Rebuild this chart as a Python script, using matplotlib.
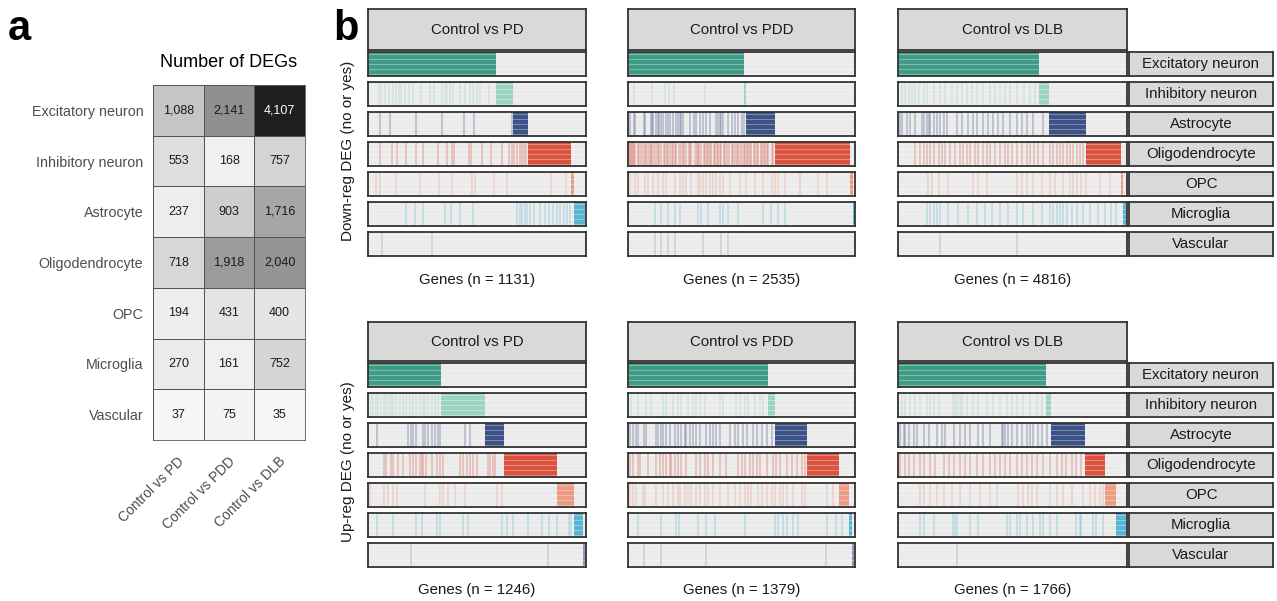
import numpy as np
import matplotlib
matplotlib.use('Agg')
import matplotlib.pyplot as plt
from matplotlib.colors import LinearSegmentedColormap, Normalize
from matplotlib.transforms import ScaledTranslation

plt.rcParams['font.family'] = ['Liberation Sans', 'DejaVu Sans']

# ---------------- data ----------------
cell_types = ['Excitatory neuron', 'Inhibitory neuron', 'Astrocyte', 'Oligodendrocyte',
              'OPC', 'Microglia', 'Vascular']
comparisons = ['Control vs PD', 'Control vs PDD', 'Control vs DLB']

# panel a: number of DEGs (rows = cell types, cols = comparisons)
deg_counts = [
    [1088, 2141, 4107],
    [553, 168, 757],
    [237, 903, 1716],
    [718, 1918, 2040],
    [194, 431, 400],
    [270, 161, 752],
    [37, 75, 35],
]

cell_colors = ['#409c86', '#9bd3c2', '#3d5387', '#d9533f', '#eb9c82', '#59b6d2', '#8b93b8']

# panel b: genes per comparison
n_down = [1131, 2535, 4816]
n_up = [1246, 1379, 1766]

# gene ranks where each cell type's "new" genes start/end (genes sorted by cell type)
down_pd_edges = [0, 664, 751, 828, 1053, 1067, 1127, 1131]
down_pdd_edges = [0, 1294, 1316, 1640, 2475, 2516, 2530, 2535]
down_dlb_edges = [0, 2971, 3174, 3963, 4681, 4730, 4800, 4816]
up_pd_edges = [0, 420, 671, 776, 1080, 1175, 1229, 1246]
up_pdd_edges = [0, 848, 892, 1089, 1282, 1343, 1363, 1379]
up_dlb_edges = [0, 1141, 1177, 1439, 1594, 1683, 1766, 1766]

# gene ranks of shared DEGs (single lines) per cell type
down_pd_lines = [
    [],
    [56, 69, 87, 108, 130, 147, 161, 173, 191, 213, 231, 274, 321, 342, 382, 399, 411, 425,
     439, 477, 503, 529, 546, 564, 581, 630],
    [61, 113, 248, 382, 498, 552, 746],
    [61, 125, 153, 199, 248, 283, 364, 411, 434, 448, 526, 536, 590, 637, 694, 734, 746, 755,
     772, 786, 798, 807, 819],
    [43, 64, 147, 269, 368, 434, 538, 555, 654, 720, 949, 1029],
    [199, 243, 283, 399, 430, 477, 546, 772, 786, 798, 812, 824, 841, 862, 893, 919, 937, 959,
     980, 997, 1015, 1032, 1046],
    [75, 330],
]
down_pdd_lines = [
    [],
    [63, 272, 410, 459, 511, 857],
    [19, 63, 75, 175, 186, 261, 270, 280, 317, 336, 350, 373, 391, 429, 447, 466, 503, 541,
     559, 578, 596, 615, 690, 734, 764, 802, 839, 876, 913, 988, 1007, 1025, 1044, 1062, 1118,
     1156, 1193, 1230, 1268, 1294],
    [8, 19, 33, 41, 56, 63, 81, 112, 127, 141, 168, 186, 199, 224, 243, 261, 272, 290, 309,
     336, 347, 373, 398, 410, 433, 447, 470, 486, 503, 529, 541, 566, 590, 615, 628, 652, 677,
     690, 709, 746, 768, 783, 797, 820, 846, 857, 880, 895, 921, 932, 959, 969, 995, 1007,
     1031, 1044, 1070, 1081, 1100, 1127, 1156, 1171, 1193, 1220, 1230, 1255, 1268, 1296, 1305,
     1331, 1342, 1368, 1379, 1403, 1417, 1446, 1454, 1480, 1491, 1518, 1529, 1553, 1566, 1603,
     1622],
    [19, 75, 112, 186, 224, 280, 336, 391, 429, 522, 578, 615, 652, 708, 783, 802, 839, 876,
     913, 951, 988, 1025, 1062, 1137, 1249, 1323, 1417, 1510, 1603, 1640, 1678, 1752, 1920,
     2125, 2218],
    [298, 373, 447, 522, 578, 783, 820, 895, 1025, 1062, 1118, 1230, 1510, 1592, 1678, 1752],
    [298, 373, 447, 522, 839, 1044, 1118],
]
down_dlb_lines = [
    [],
    [84, 154, 230, 294, 356, 433, 538, 612, 748, 881, 993, 1132, 1240, 1342, 1447, 1549, 1660,
     1796, 1936, 2041, 2150, 2251, 2356, 2495, 2640, 2775, 2880],
    [35, 84, 189, 259, 363, 503, 538, 608, 643, 678, 748, 818, 888, 958, 1028, 1237, 1342,
     1482, 1587, 1657, 1796, 1901, 2006, 2111, 2216, 2356, 2495, 2600, 2705, 2845, 3055],
    [363, 468, 538, 608, 678, 748, 853, 923, 993, 1097, 1202, 1307, 1377, 1447, 1517, 1622,
     1692, 1796, 1866, 1936, 2041, 2146, 2251, 2321, 2391, 2495, 2600, 2705, 2775, 2859, 2950,
     3055, 3194, 3264, 3334, 3404, 3474, 3544, 3614, 3684, 3754, 3824, 3893],
    [629, 713, 853, 1062, 1587, 1692, 1866, 2495, 2600, 2705, 2845, 3020, 3194, 3299, 3474,
     3614, 3684, 3754, 3858, 3963, 4243, 4453],
    [608, 678, 748, 818, 888, 1062, 1272, 1482, 1657, 1831, 1971, 2146, 2321, 2495, 2635, 2845,
     3020, 3194, 3264, 3334, 3404, 3474, 3544, 3649, 3754, 3893, 4033, 4208, 4348, 4488, 4593],
    [874, 2495],
]
up_pd_lines = [
    [],
    [19, 29, 44, 57, 76, 90, 105, 120, 134, 143, 162, 182, 201, 220, 239, 258, 277, 296, 315,
     325, 344, 363, 382, 401],
    [54, 229, 243, 258, 277, 315, 325, 344, 363, 382, 401, 411, 554, 583],
    [90, 105, 134, 143, 172, 201, 239, 258, 277, 296, 306, 315, 334, 363, 392, 411, 430, 526,
     545, 564, 583, 602, 621, 688, 698, 717, 726],
    [10, 90, 115, 143, 166, 325, 411, 430, 459, 497, 554, 740, 764],
    [54, 143, 273, 306, 392, 411, 541, 573, 764, 793, 827, 917, 994, 1032, 1080, 1147, 1160],
    [248, 1028],
]
up_pdd_lines = [
    [],
    [20, 61, 112, 142, 213, 233, 274, 304, 324, 365, 395, 416, 436, 466, 558, 578, 659, 679,
     710, 730, 771, 801, 821],
    [10, 30, 51, 61, 95, 112, 172, 183, 203, 213, 233, 254, 284, 304, 324, 345, 355, 375, 395,
     416, 436, 473, 497, 517, 537, 558, 619, 649, 669, 700, 720, 761, 781, 817, 842, 872],
    [10, 30, 61, 71, 122, 172, 193, 213, 233, 254, 264, 284, 304, 324, 355, 416, 436, 466, 487,
     517, 558, 598, 669, 690, 710, 740, 761, 781, 801, 842, 882, 902, 923, 963, 994, 1024,
     1055, 1075],
    [10, 30, 51, 91, 101, 172, 213, 243, 274, 304, 314, 345, 365, 385, 416, 436, 466, 487, 517,
     558, 608, 649, 679, 710, 730, 750, 791, 811, 842, 872, 892, 923, 943, 963, 1004, 1055,
     1075, 1207, 1247],
    [61, 203, 290, 310, 426, 473, 527, 710, 892, 913, 943, 963, 1004, 1034, 1207, 1263, 1298],
    [95, 203, 473, 1203],
]
up_dlb_lines = [
    [],
    [31, 56, 95, 133, 172, 223, 249, 274, 313, 428, 441, 454, 479, 492, 531, 582, 620, 684,
     736, 787, 838, 877, 915, 966, 1018, 1069, 1107],
    [18, 44, 56, 82, 120, 146, 197, 236, 300, 338, 364, 433, 479, 518, 556, 620, 659, 710, 800,
     812, 825, 851, 877, 915, 953, 992, 1018, 1043, 1082, 1107, 1146],
    [18, 56, 82, 120, 172, 197, 249, 287, 351, 390, 433, 479, 518, 556, 607, 659, 710, 748,
     787, 825, 864, 915, 953, 992, 1030, 1069, 1120, 1171, 1223, 1261, 1299, 1338, 1376, 1415],
    [172, 197, 249, 300, 351, 415, 479, 556, 633, 710, 761, 928, 966, 1005, 1030, 1069, 1171,
     1223, 1274, 1338, 1428, 1479, 1517, 1556, 1581],
    [172, 197, 274, 428, 441, 454, 556, 620, 838, 864, 915, 941, 992, 1043, 1094, 1120, 1171,
     1223, 1376, 1402, 1415, 1505, 1530, 1581],
    [454],
]

# ---------------- layout ----------------
W, H = 1277, 601
fig = plt.figure(figsize=(W / 100, H / 100), dpi=100)


def px_axes(x0, y0, x1, y1):
    return fig.add_axes([x0 / W, 1 - y1 / H, (x1 - x0) / W, (y1 - y0) / H])


def plain(ax, face='#ebebeb', edge='#333333', lw=1.3):
    ax.set_facecolor(face)
    ax.set_xticks([])
    ax.set_yticks([])
    for s in ax.spines.values():
        s.set_color(edge)
        s.set_linewidth(lw)


# ---- panel a ----
gray_cmap = LinearSegmentedColormap.from_list(
    'deg', [(0, '#f7f7f7'), (0.25, '#c8c8c8'), (0.5, '#959595'), (1, '#1e1e1e')])
ax = px_axes(153, 85, 305, 440)
vals = np.array(deg_counts)
ax.pcolormesh(vals, cmap=gray_cmap, norm=Normalize(0, 4107), edgecolors='#555555', linewidth=0.6)
ax.set_xlim(0, 3)
ax.set_ylim(7, 0)
for i in range(vals.shape[0]):
    for j in range(vals.shape[1]):
        v = vals[i, j]
        ax.text(j + 0.5, i + 0.5, f'{v:,}', ha='center', va='center', fontsize=9,
                color='white' if v > 3000 else '#1a1a1a')
ax.set_yticks(np.arange(7) + 0.5)
ax.set_yticklabels(cell_types, fontsize=10.3, color='#4d4d4d')
ax.set_xticks(np.arange(3) + 0.5)
ax.set_xticklabels(comparisons, fontsize=10, color='#4d4d4d', rotation=45,
                   ha='right', va='center', rotation_mode='anchor')
ax.tick_params(axis='y', length=0, pad=7)
ax.tick_params(axis='x', length=0, pad=14)
shift = ScaledTranslation(4 / 100, 0, fig.dpi_scale_trans)
for lab in ax.get_xticklabels():
    lab.set_transform(lab.get_transform() + shift)
for s in ax.spines.values():
    s.set_color('#555555')
    s.set_linewidth(0.6)
ax.set_title('Number of DEGs', fontsize=13, pad=13)

fig.text(8 / W, 1 - 40 / H, 'a', fontsize=30, fontweight='bold', va='baseline')
fig.text(333 / W, 1 - 40 / H, 'b', fontsize=30, fontweight='bold', va='baseline')

# ---- panel b ----
col_x = [(368, 586), (628, 855), (898, 1127)]
groups = [
    dict(n=n_down, edges=[down_pd_edges, down_pdd_edges, down_dlb_edges],
         lines=[down_pd_lines, down_pdd_lines, down_dlb_lines],
         head=(9, 50), top=52, genes_y=280, ylabel='Down-reg DEG (no or yes)'),
    dict(n=n_up, edges=[up_pd_edges, up_pdd_edges, up_dlb_edges],
         lines=[up_pd_lines, up_pdd_lines, up_dlb_lines],
         head=(322, 361), top=363, genes_y=590, ylabel='Up-reg DEG (no or yes)'),
]

for g in groups:
    for c, (x0, x1) in enumerate(col_x):
        hd = px_axes(x0, g['head'][0], x1, g['head'][1])
        plain(hd, face='#d9d9d9')
        hd.text(0.5, 0.5, comparisons[c], ha='center', va='center', fontsize=10.8,
                color='#1a1a1a', transform=hd.transAxes)
        n = g['n'][c]
        edges = g['edges'][c]
        lines = g['lines'][c]
        for r in range(7):
            y0 = g['top'] + 30 * r
            ax = px_axes(x0, y0, x1, y0 + 24)
            plain(ax)
            ax.set_xlim(0, n)
            ax.set_ylim(0, 1)
            for yy in np.arange(0.1, 1, 0.2):
                ax.axhline(yy, color='white', lw=0.4, alpha=0.6)
            if lines[r]:
                ax.vlines(lines[r], 0, 1, color=cell_colors[r], lw=1.1, alpha=0.35)
            if edges[r + 1] > edges[r]:
                ax.axvspan(edges[r], edges[r + 1], color=cell_colors[r], lw=0)
        fig.text((x0 + x1) / 2 / W, 1 - g['genes_y'] / H, f'Genes (n = {n})',
                 ha='center', va='center', fontsize=10.8, color='#1a1a1a')
    for r in range(7):
        y0 = g['top'] + 30 * r
        lab = px_axes(1129, y0, 1273, y0 + 24)
        plain(lab, face='#d9d9d9')
        lab.text(0.5, 0.5, cell_types[r], ha='center', va='center', fontsize=10.8,
                 color='#1a1a1a', transform=lab.transAxes)
    mid = g['top'] + 99
    fig.text(348 / W, 1 - mid / H, g['ylabel'], rotation=90, ha='center', va='center',
             fontsize=11, color='#1a1a1a')

fig.savefig('out.png', dpi=100)
